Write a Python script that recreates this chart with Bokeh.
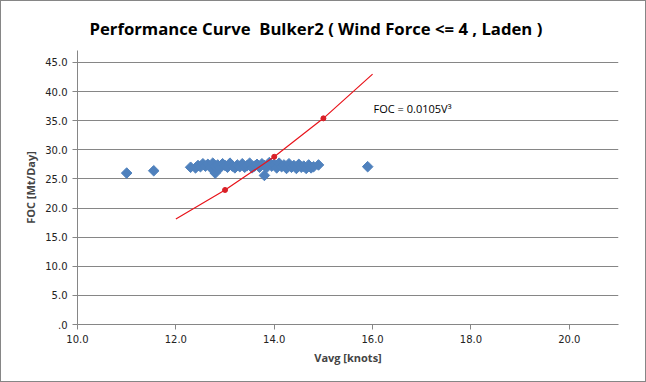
import numpy as np
from bokeh.plotting import figure
from bokeh.models import Title, Label, FixedTicker, CustomJSTickFormatter, Range1d
from bokeh.embed import file_html
from bokeh.resources import INLINE

# observed data (Vavg knots, FOC Mt/day)
speed = [11.0, 11.55, 12.3, 12.4, 12.45, 12.5, 12.55, 12.6, 12.65, 12.7, 12.75, 12.8, 12.8,
         12.85, 12.9, 12.95, 13.0, 13.05, 13.1, 13.15, 13.2, 13.25, 13.3, 13.35, 13.4, 13.45,
         13.5, 13.55, 13.6, 13.65, 13.7, 13.75, 13.8, 13.8, 13.85, 13.9, 13.95, 14.0, 14.05,
         14.1, 14.15, 14.2, 14.25, 14.3, 14.35, 14.4, 14.45, 14.5, 14.55, 14.6, 14.65, 14.7,
         14.75, 14.8, 14.9, 15.9]
foc = [26.0, 26.4, 27.0, 26.9, 27.3, 27.1, 27.6, 27.2, 27.5, 27.0, 27.7, 26.0, 27.2,
       27.4, 26.9, 27.6, 27.3, 27.0, 27.7, 27.2, 26.9, 27.4, 27.1, 27.6, 27.0, 27.3,
       27.7, 26.9, 27.2, 27.5, 27.0, 27.6, 25.6, 27.3, 27.0, 27.8, 27.2, 27.5, 26.9,
       27.7, 27.1, 27.4, 26.8, 27.6, 27.0, 27.3, 26.8, 27.5, 27.0, 27.2, 26.8, 27.4,
       26.9, 27.1, 27.4, 27.1]

# performance curve FOC = 0.0105 V^3
curve_speed = [12.0, 13.0, 14.0, 15.0, 16.0]
curve_foc = [18.1, 23.1, 28.8, 35.4, 43.0]
marker_speed = [13.0, 14.0, 15.0]
marker_foc = [23.1, 28.8, 35.4]

x_ticks = [10, 12, 14, 16, 18, 20]
y_ticks = [0, 5, 10, 15, 20, 25, 30, 35, 40, 45]

p = figure(width=646, height=382, output_backend="svg", toolbar_location=None,
           x_range=Range1d(10, 21), y_range=Range1d(0, 47.05),
           min_border_left=76, min_border_right=29, min_border_top=49, min_border_bottom=59)
p.styles = {"border": "1px solid #868686", "box-sizing": "border-box"}

p.title = Title(text="Performance Curve \u00a0Bulker2 ( Wind Force <= 4 , Laden )",
                align="left", offset=12, text_font="Open Sans", text_font_size="16.7px",
                text_font_style="bold", text_color="#000000", standoff=17,
                vertical_align="top")

p.outline_line_color = None
p.xgrid.grid_line_color = None
p.ygrid.grid_line_color = "#868686"
p.ygrid.grid_line_width = 1

fmt = CustomJSTickFormatter(code="return tick === 0 ? '.0' : tick.toFixed(1);")
for ax in (p.xaxis[0], p.yaxis[0]):
    ax.axis_line_color = "#868686"
    ax.major_tick_line_color = "#868686"
    ax.major_tick_in = 0
    ax.major_tick_out = 5
    ax.minor_tick_line_color = None
    ax.major_label_text_font = "DejaVu Sans"
    ax.major_label_text_font_size = "10px"
    ax.major_label_text_color = "#222222"
    ax.axis_label_text_font = "Open Sans"
    ax.axis_label_text_font_size = "11px"
    ax.axis_label_text_font_style = "bold"
    ax.formatter = fmt

p.xaxis.ticker = FixedTicker(ticks=x_ticks)
p.yaxis.ticker = FixedTicker(ticks=y_ticks)
p.xaxis.axis_label = "Vavg [knots]"
p.yaxis.axis_label = "FOC [Mt/Day]"
p.xaxis.axis_label_standoff = 4
p.yaxis.axis_label_standoff = 4

p.scatter(speed, foc, marker="square", angle=np.pi / 4, size=7.5,
          fill_color="#4F81BD", line_color="#4F81BD")

p.line(curve_speed, curve_foc, line_color="#E8141B", line_width=1.2)
p.scatter(marker_speed, marker_foc, marker="circle", size=5,
          fill_color="#D92027", line_color="#D92027")

p.add_layout(Label(x=16.02, y=37.1, text="FOC = 0.0105V\u00b3", text_font="Open Sans",
                   text_font_size="11px", text_color="#000000",
                   text_baseline="middle"))

open("out.html", "w").write(file_html(p, INLINE))
